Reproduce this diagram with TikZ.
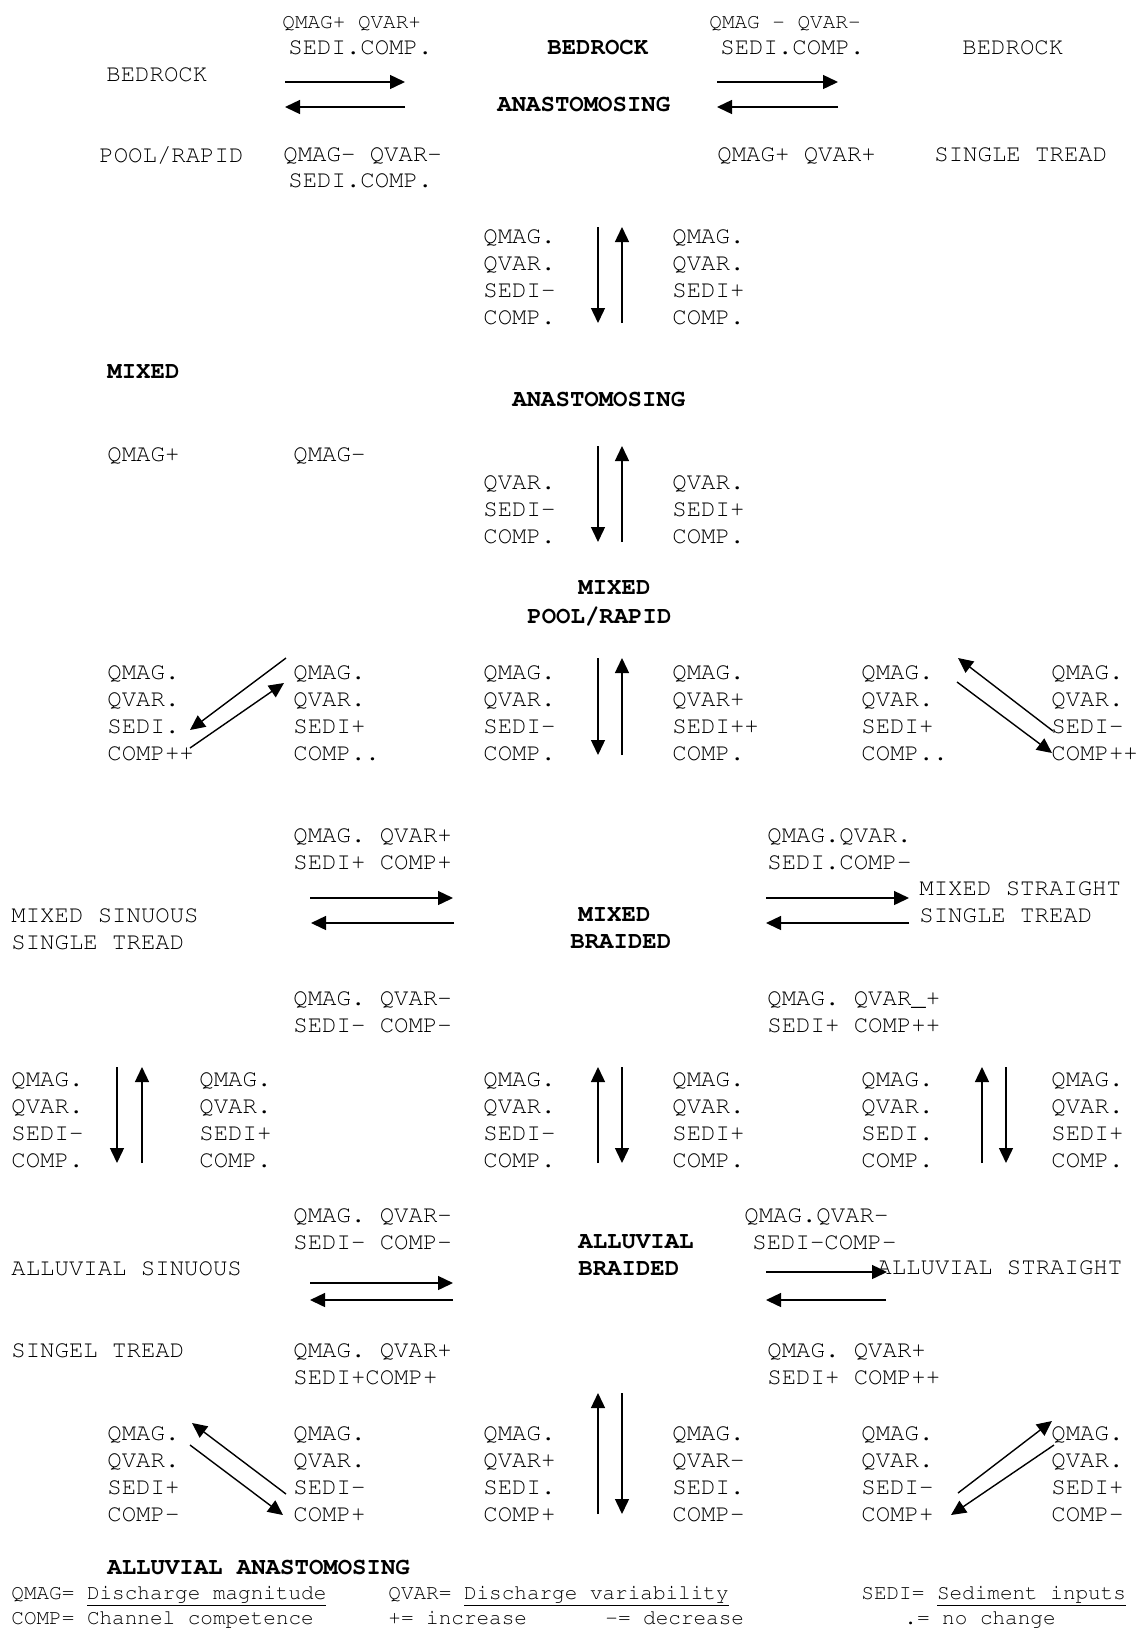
\documentclass[tikz,border=0pt]{standalone}
\usepackage[T1]{fontenc}
\usepackage{courier}
\renewcommand{\familydefault}{\ttdefault}
\usetikzlibrary{arrows.meta}

\tikzset{
  lbl/.style={anchor=north west, inner sep=0pt, align=left, font=\fontsize{12}{13.5}\selectfont},
  bld/.style={lbl, font=\fontsize{12}{13.5}\selectfont\bfseries},
  sml/.style={lbl, font=\fontsize{10.5}{12.5}\selectfont},
  leg/.style={anchor=base west, inner sep=0pt, font=\fontsize{10.5}{12.5}\selectfont},
  arr/.style={-{Triangle[length=7.5pt,width=7pt]}, line width=0.7pt},
}

\begin{document}
\begin{tikzpicture}[x=0.5pt, y=-0.5pt]
\useasboundingbox (0,0) rectangle (1136,1628);

\node[sml] (tq1) at (282,16) {QMAG+ QVAR+};
\node[lbl] (ts1) at (288,40) {SEDI.COMP.};
\node[bld] (bra1) at (547,40) {BEDROCK};
\node[bld] (bra2) at (497,97) {ANASTOMOSING};
\node[sml] (tq2) at (709,16) {QMAG \textendash\ QVAR\textendash};
\node[lbl] (ts2) at (720,40) {SEDI.COMP.};
\node[lbl] (bst1) at (962,40) {BEDROCK};
\node[lbl] (bst2) at (934,147) {SINGLE TREAD};
\node[lbl] (bpr1) at (106,67) {BEDROCK};
\node[lbl] (bpr2) at (99,147) {POOL/RAPID};
\node[lbl] (tq3) at (283,147) {QMAG\textendash\ QVAR-};
\node[lbl] (ts3) at (288,173) {SEDI.COMP.};
\node[lbl] (tq4) at (717,147) {QMAG+ QVAR+};

\node[lbl] (va1) at (483,229) {QMAG.\\QVAR.\\SEDI-\\COMP.};
\node[lbl] (va2) at (672,229) {QMAG.\\QVAR.\\SEDI+\\COMP.};
\node[bld] (ma1) at (107,365) {MIXED};
\node[bld] (ma2) at (512,392) {ANASTOMOSING};
\node[lbl] (qm1) at (107,447) {QMAG+};
\node[lbl] (qm2) at (293,447) {QMAG-};
\node[lbl] (vb1) at (483,475) {QVAR.\\SEDI-\\COMP.};
\node[lbl] (vb2) at (672,475) {QVAR.\\SEDI+\\COMP.};
\node[bld] (mp1) at (578,581) {MIXED};
\node[bld] (mp2) at (527,608) {POOL/RAPID};

\foreach \x/\t [count=\i] in {107/{QMAG.\\QVAR.\\SEDI.\\COMP++}, 293/{QMAG.\\QVAR.\\SEDI+\\COMP..},
    483/{QMAG.\\QVAR.\\SEDI-\\COMP.}, 672/{QMAG.\\QVAR+\\SEDI++\\COMP.},
    861/{QMAG.\\QVAR.\\SEDI+\\COMP..}, 1051/{QMAG.\\QVAR.\\SEDI-\\COMP++}}
  \node[lbl] (pr\i) at (\x,665) {\t};

\node[lbl] (mb1) at (293,828) {QMAG. QVAR+\\SEDI+ COMP+};
\node[lbl] (mb2) at (767,828) {QMAG.QVAR.\\SEDI.COMP-};
\node[lbl] (mst) at (919,881) {MIXED STRAIGHT\\SINGLE TREAD};
\node[lbl] (msi) at (11,908) {MIXED SINUOUS\\SINGLE TREAD};
\node[bld] (mbr1) at (578,908) {MIXED};
\node[bld] (mbr2) at (570,935) {BRAIDED};
\node[lbl] (mb3) at (293,991) {QMAG. QVAR-\\SEDI- COMP-};
\node[lbl] (mb4) at (767,991) {QMAG. QVAR\_+\\SEDI+ COMP++};

\foreach \x/\t [count=\i] in {11/{QMAG.\\QVAR.\\SEDI-\\COMP.}, 199/{QMAG.\\QVAR.\\SEDI+\\COMP.},
    483/{QMAG.\\QVAR.\\SEDI-\\COMP.}, 672/{QMAG.\\QVAR.\\SEDI+\\COMP.},
    861/{QMAG.\\QVAR.\\SEDI.\\COMP.}, 1051/{QMAG.\\QVAR.\\SEDI+\\COMP.}}
  \node[lbl] (br\i) at (\x,1072) {\t};

\node[lbl] (ab1) at (293,1208) {QMAG. QVAR-\\SEDI- COMP-};
\node[bld] (abr) at (578,1235) {ALLUVIAL\\BRAIDED};
\node[lbl] (ab2) at (744,1208) {QMAG.QVAR-};
\node[lbl] (ab3) at (752,1235) {SEDI-COMP-};
\node[lbl] (asi1) at (11,1261) {ALLUVIAL SINUOUS};
\node[lbl] (ast) at (877,1260) {ALLUVIAL STRAIGHT};
\node[lbl] (asi2) at (11,1343) {SINGEL TREAD};
\node[lbl] (ab4) at (293,1343) {QMAG. QVAR+\\SEDI+COMP+};
\node[lbl] (ab5) at (767,1343) {QMAG. QVAR+\\SEDI+ COMP++};

\foreach \x/\t [count=\i] in {107/{QMAG.\\QVAR.\\SEDI+\\COMP-}, 293/{QMAG.\\QVAR.\\SEDI-\\COMP+},
    483/{QMAG.\\QVAR+\\SEDI.\\COMP+}, 672/{QMAG.\\QVAR-\\SEDI.\\COMP-},
    861/{QMAG.\\QVAR.\\SEDI-\\COMP+}, 1051/{QMAG.\\QVAR.\\SEDI+\\COMP-}}
  \node[lbl] (aa\i) at (\x,1426) {\t};

\node[bld] (aan) at (107,1560) {ALLUVIAL ANASTOMOSING};

\node[leg] (k1) at (11,1599) {QMAG= \underline{Discharge magnitude}};
\node[leg] (k2) at (388,1599) {QVAR= \underline{Discharge variability}};
\node[leg] (k3) at (861,1599) {SEDI= \underline{Sediment inputs}};
\node[leg] (k4) at (11,1624) {COMP= Channel competence};
\node[leg] (k5) at (388,1624) {+= increase};
\node[leg] (k6) at (605,1624) {-= decrease};
\node[leg] (k7) at (904,1624) {.= no change};

\foreach \n/\xa/\ya/\xb/\yb in {h1/285/82/405/82, h2/405/107/285/107, h3/717/82/838/82, h4/838/107/717/107,
    v1/598/227/598/323, v2/622/323/622/227, v3/598/446/598/542, v4/622/542/622/446,
    d1/286/658/190/730, d2/190/748/284/683, v5/598/658/598/755, v6/622/755/622/658,
    d3/1053/731/958/658, d4/957/682/1052/753,
    h5/310/898/453/898, h6/454/923/311/923, h7/766/898/909/898, h8/909/923/766/923,
    v7/117/1067/117/1163, v8/142/1163/142/1067, v9/598/1163/598/1067, v10/622/1067/622/1163,
    v11/982/1163/982/1067, v12/1006/1067/1006/1163,
    h9/310/1283/453/1283, h10/453/1300/310/1300, h11/766/1272/887/1272, h12/886/1300/766/1300,
    d5/286/1494/192/1423, d6/190/1445/283/1515, v13/598/1514/598/1393, v14/622/1393/622/1514,
    d7/958/1493/1052/1421, d8/1054/1445/951/1515}{
  \coordinate (\n-s) at (\xa,\ya);
  \coordinate (\n-e) at (\xb,\yb);
  \draw[arr] (\n-s) -- (\n-e);
}

\end{tikzpicture}
\end{document}
